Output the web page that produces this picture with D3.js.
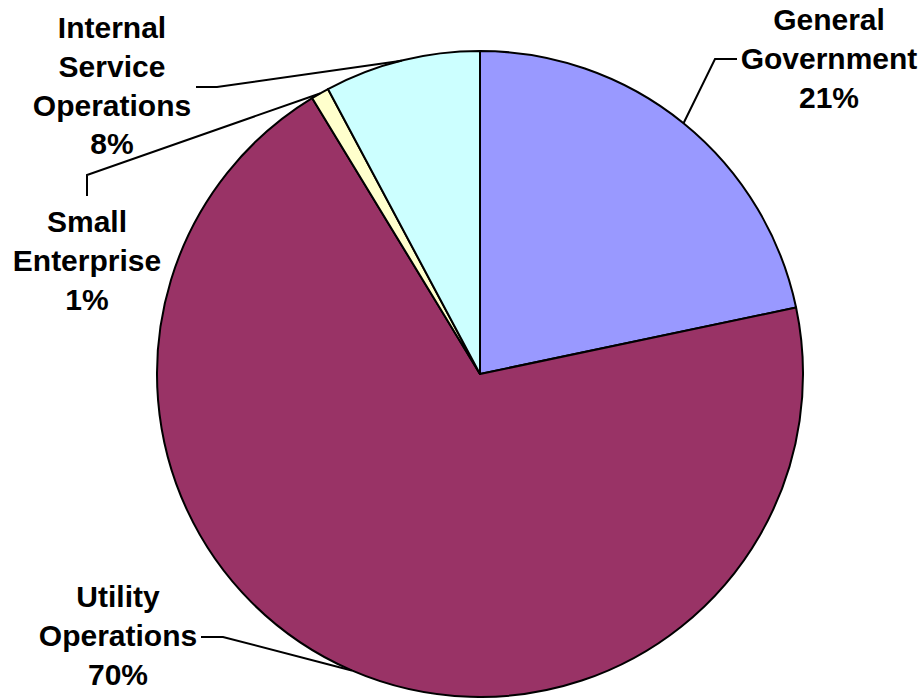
<!DOCTYPE html>
<html lang="en">
<head>
  <meta charset="UTF-8">
  <title>Pie</title>
  <script src="https://d3js.org/d3.v7.min.js"></script>
  <style>
    body { margin: 0; background: white; }
    .label { font-family: "Liberation Sans", Arial, sans-serif; font-weight: bold; font-size: 30px; fill: black; }
  </style>
</head>
<body>
  <svg width="924" height="698"></svg>
  <script>
    // data
    const categories = ["General Government", "Utility Operations", "Small Enterprise", "Internal Service Operations"];
    const values = [21.7, 69.6, 0.9, 7.8];
    const pctLabels = ["21%", "70%", "1%", "8%"];
    const colors = ["#9999FF", "#993366", "#FFFFCC", "#CCFFFF"];

    // label layout: text lines, text centre x, first baseline, leader elbow points
    const labelLayout = [
      { lines: ["General", "Government"], x: 829, y: 30, elbow: [[715, 59], [737, 59]] },
      { lines: ["Utility", "Operations"], x: 118, y: 607, elbow: [[223, 637], [201, 637]] },
      { lines: ["Small", "Enterprise"], x: 87, y: 232, elbow: [[87, 175], [87, 196]] },
      { lines: ["Internal", "Service", "Operations"], x: 112, y: 38, elbow: [[217, 87], [196, 87]] }
    ];

    const svg = d3.select("svg");
    const cx = 480, cy = 374, r = 323;
    const g = svg.append("g").attr("transform", `translate(${cx},${cy})`);

    const pie = d3.pie().sort(null).value(d => d.value);
    const data = categories.map((c, i) => ({ name: c, value: values[i], color: colors[i], pct: pctLabels[i], layout: labelLayout[i] }));
    const arcs = pie(data);
    const arc = d3.arc().innerRadius(0).outerRadius(r);

    g.selectAll("path.slice")
      .data(arcs)
      .enter()
      .append("path")
      .attr("class", "slice")
      .attr("d", arc)
      .attr("fill", d => d.data.color)
      .attr("stroke", "black")
      .attr("stroke-width", 2)
      .attr("stroke-linejoin", "round");

    // leader lines
    arcs.forEach(d => {
      const a = (d.startAngle + d.endAngle) / 2;
      const px = cx + r * Math.sin(a), py = cy - r * Math.cos(a);
      const pts = [[px, py]].concat(d.data.layout.elbow);
      svg.append("path")
        .attr("d", d3.line()(pts))
        .attr("fill", "none")
        .attr("stroke", "black")
        .attr("stroke-width", 2);
    });

    // labels
    arcs.forEach(d => {
      const L = d.data.layout;
      const lines = L.lines.concat([d.data.pct]);
      const t = svg.append("text")
        .attr("class", "label")
        .attr("text-anchor", "middle");
      lines.forEach((ln, i) => {
        t.append("tspan")
          .attr("x", L.x)
          .attr("y", L.y + i * 38.8)
          .text(ln);
      });
    });
  </script>
</body>
</html>
